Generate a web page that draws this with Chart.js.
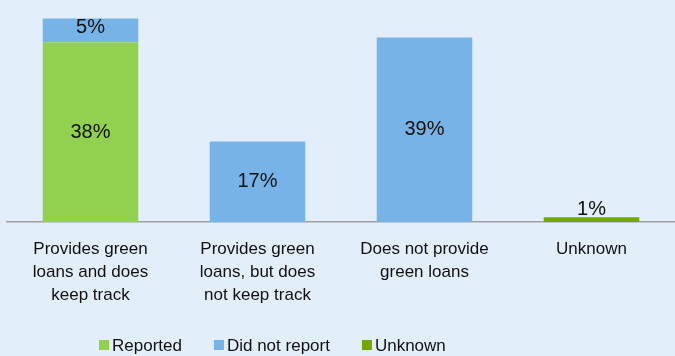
<!DOCTYPE html>
<html>
<head>
<meta charset="utf-8">
<script src="https://cdn.jsdelivr.net/npm/chart.js@4/dist/chart.umd.min.js"></script>
<style>
  html, body { margin: 0; padding: 0; background: #E2EEF9; }
  #wrap { width: 675px; height: 356px; position: relative; }
</style>
</head>
<body>
<div id="wrap"><canvas id="c" width="675" height="356"></canvas></div>
<script>
const categories = [
  ["Provides green", "loans and does", "keep track"],
  ["Provides green", "loans, but does", "not keep track"],
  ["Does not provide", "green loans"],
  ["Unknown"]
];
const reported = [38, null, null, null];
const didNotReport = [5, 17, 39, null];
const unknown = [null, null, null, 1];
const seriesNames = ["Reported", "Did not report", "Unknown"];
const colors = ["#92D050", "#78B3E8", "#74A600"];
const FONT = "'Liberation Sans', Arial, sans-serif";

const bgPlugin = {
  id: 'bg',
  beforeDraw(chart) {
    const ctx = chart.ctx;
    ctx.save();
    ctx.fillStyle = '#E2EEF9';
    ctx.fillRect(0, 0, chart.width, chart.height);
    ctx.restore();
  }
};

const labelPlugin = {
  id: 'barLabels',
  afterDatasetsDraw(chart) {
    const ctx = chart.ctx;
    ctx.save();
    ctx.font = '20px ' + FONT;
    ctx.fillStyle = '#111';
    ctx.textAlign = 'center';
    chart.data.datasets.forEach((ds, di) => {
      const meta = chart.getDatasetMeta(di);
      meta.data.forEach((el, i) => {
        const v = ds.data[i];
        if (v === null || v === undefined) return;
        const top = Math.min(el.y, el.base);
        const h = Math.abs(el.base - el.y);
        if (h < 18) {
          ctx.textBaseline = 'alphabetic';
          ctx.fillText(v + '%', el.x, top - 2);
        } else {
          ctx.textBaseline = 'middle';
          ctx.fillText(v + '%', el.x, top + h / 2 - (h < 30 ? 3 : 0));
        }
      });
    });
    ctx.restore();
  }
};

const legendPlugin = {
  id: 'customLegend',
  afterDraw(chart) {
    const ctx = chart.ctx;
    ctx.save();
    ctx.font = '17px ' + FONT;
    ctx.textBaseline = 'middle';
    ctx.textAlign = 'left';
    const box = 10, gapText = 3, gapItem = 32;
    const y = 345;
    let x = 99;
    chart.data.datasets.forEach((ds) => {
      ctx.fillStyle = ds.backgroundColor;
      ctx.fillRect(x, y - box / 2, box, box);
      ctx.fillStyle = '#111';
      const tx = x + box + gapText;
      ctx.fillText(ds.label, tx, y + 1);
      x = tx + ctx.measureText(ds.label).width + gapItem;
    });
    ctx.restore();
  }
};

new Chart(document.getElementById('c'), {
  type: 'bar',
  data: {
    labels: categories,
    datasets: [
      { label: seriesNames[0], data: reported, backgroundColor: colors[0] },
      { label: seriesNames[1], data: didNotReport, backgroundColor: colors[1] },
      { label: seriesNames[2], data: unknown, backgroundColor: colors[2] }
    ]
  },
  options: {
    responsive: false,
    animation: false,
    devicePixelRatio: 1,
    layout: { padding: { left: 7, right: -3, top: 9, bottom: 41 } },
    datasets: { bar: { barPercentage: 0.572, categoryPercentage: 1.0 } },
    plugins: {
      legend: { display: false },
      tooltip: { enabled: false }
    },
    scales: {
      x: {
        stacked: true,
        grid: { display: false },
        border: { display: true, color: '#A0A0A0', width: 1.5 },
        ticks: {
          color: '#111',
          padding: 8,
          maxRotation: 0,
          autoSkip: false,
          font: { family: FONT, size: 17, lineHeight: '23px' }
        }
      },
      y: {
        stacked: true,
        display: false,
        min: 0,
        max: 45
      }
    }
  },
  plugins: [bgPlugin, labelPlugin, legendPlugin]
});
</script>
</body>
</html>
